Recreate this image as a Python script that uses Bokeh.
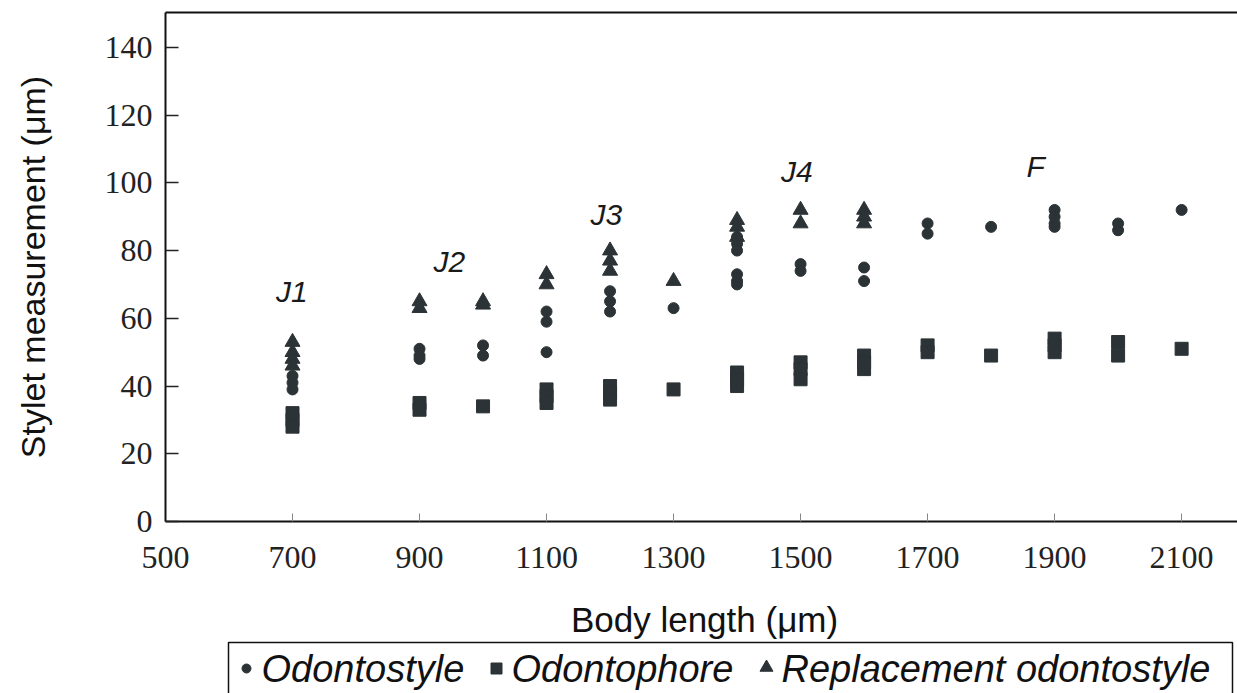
from bokeh.plotting import figure
from bokeh.models import Range1d, LinearAxis, FixedTicker
from bokeh.layouts import column
from bokeh.core.properties import value
from bokeh.embed import file_html
from bokeh.resources import INLINE

# ---- data ----
odontostyle_x = [700, 700, 700, 900, 900, 900, 1000, 1000, 1100, 1100, 1100,
                 1200, 1200, 1200, 1300, 1400, 1400, 1400, 1400, 1400, 1400,
                 1500, 1500, 1600, 1600, 1700, 1700, 1800, 1900, 1900, 1900, 1900,
                 2000, 2000, 2100]
odontostyle_y = [43, 41, 39, 51, 49, 48, 52, 49, 62, 59, 50,
                 68, 65, 62, 63, 84, 82, 80, 73, 71, 70,
                 76, 74, 75, 71, 88, 85, 87, 92, 90, 88, 87,
                 88, 86, 92]

odontophore_x = [700, 700, 700, 900, 900, 1000, 1100, 1100, 1100,
                 1200, 1200, 1200, 1300, 1400, 1400, 1400, 1500, 1500, 1500,
                 1600, 1600, 1600, 1700, 1700, 1800, 1900, 1900, 1900,
                 2000, 2000, 2100]
odontophore_y = [32, 30, 28, 35, 33, 34, 39, 37, 35,
                 40, 38, 36, 39, 44, 42, 40, 47, 45, 42,
                 49, 47, 45, 52, 50, 49, 54, 52, 50,
                 53, 49, 51]

replacement_x = [700, 700, 700, 700, 900, 900, 1000, 1000, 1100, 1100,
                 1200, 1200, 1200, 1300, 1400, 1400, 1400, 1500, 1500,
                 1600, 1600, 1600]
replacement_y = [53, 50, 48, 46, 65, 63, 65, 64, 73, 70,
                 80, 77, 74, 71, 89, 87, 84, 92, 88,
                 92, 90, 88]

stage_labels = ["J1", "J2", "J3", "J4", "F"]
stage_x = [699, 947, 1194, 1494, 1870]
stage_y = [67.8, 76.7, 90.6, 103.3, 104.8]

x_ticks = [500, 700, 900, 1100, 1300, 1500, 1700, 1900, 2100]
y_ticks = [0, 20, 40, 60, 80, 100, 120, 140]

series_labels = ["Odontostyle", "Odontophore", "Replacement odontostyle"]
x_title = "Body length (μm)"
y_title = "Stylet measurement (μm)"

MARK = "#2b3336"
SERIF = "Liberation Serif"
SANS = "Liberation Sans"

# ---------------- main plot ----------------
p = figure(width=1237, height=600, output_backend="svg", toolbar_location=None,
           x_range=Range1d(500, 2188), y_range=Range1d(0, 150.3),
           min_border_left=165, min_border_right=0, min_border_top=12,
           min_border_bottom=79)
p.background_fill_color = "white"
p.border_fill_color = "white"
p.outline_line_color = None
p.xgrid.visible = False
p.ygrid.visible = False

xa = p.xaxis[0]
xa.ticker = FixedTicker(ticks=x_ticks)
xa.axis_line_width = 2
xa.axis_line_color = "#111111"
xa.major_tick_in = 8
xa.major_tick_out = 0
xa.major_tick_line_color = "#888888"
xa.minor_tick_line_color = None
xa.major_label_text_font = SERIF
xa.major_label_text_font_size = "32px"
xa.major_label_text_color = "#222222"
xa.major_label_standoff = 25

ya = p.yaxis[0]
ya.ticker = FixedTicker(ticks=y_ticks)
ya.axis_line_width = 2
ya.axis_line_color = "#111111"
ya.major_tick_in = 13
ya.major_tick_out = 0
ya.major_tick_line_width = 1.5
ya.major_tick_line_color = "#222222"
ya.minor_tick_line_color = None
ya.major_label_text_font = SERIF
ya.major_label_text_font_size = "32px"
ya.major_label_text_color = "#222222"
ya.major_label_standoff = 13
ya.axis_label = y_title
ya.axis_label_text_font = SANS
ya.axis_label_text_font_style = "normal"
ya.axis_label_text_font_size = "34px"
ya.axis_label_text_color = "#111111"
ya.axis_label_standoff = 50

top = LinearAxis(ticker=FixedTicker(ticks=[]), axis_line_width=2,
                 axis_line_color="#111111", major_tick_line_color=None,
                 minor_tick_line_color=None, major_label_text_font_size="0px",
                 major_label_standoff=0)
p.add_layout(top, "above")

p.scatter(odontostyle_x, odontostyle_y, marker="circle", size=11,
          fill_color=MARK, line_color=MARK)
p.scatter(odontophore_x, odontophore_y, marker="square", size=13,
          fill_color=MARK, line_color=MARK)
p.scatter(replacement_x, replacement_y, marker="triangle", size=15,
          fill_color=MARK, line_color=MARK)

p.text(x=stage_x, y=stage_y, text=stage_labels, text_align="center",
       text_baseline="middle", text_font=value(SANS), text_font_style="italic",
       text_font_size="30px", text_color="#1a1a1a")

# ------------- x title + legend strip (page-pixel coordinates) -------------
# the column aligns this strip's frame with the main frame (page x 165..1237)
q = figure(width=1237, height=93, output_backend="svg", toolbar_location=None,
           x_range=Range1d(165, 1237), y_range=Range1d(0, 93),
           x_axis_location=None, y_axis_location=None,
           min_border=0, min_border_left=0, min_border_right=0,
           min_border_top=0, min_border_bottom=0)
q.outline_line_color = None
q.xgrid.visible = False
q.ygrid.visible = False
q.background_fill_color = "white"
q.border_fill_color = "white"

q.text(x=[704], y=[74], text=[x_title], text_align="center",
       text_baseline="middle", text_font=value(SANS), text_font_size="35px",
       text_color="#111111")

# legend box (open at the bottom, as in the reference crop)
q.line(x=[228, 228, 1232, 1232], y=[0, 51, 51, 0], line_color="#111111",
       line_width=1.5)

leg_y = 25
q.scatter([246], [leg_y], marker="circle", size=9, fill_color=MARK, line_color=MARK)
q.scatter([496], [leg_y], marker="square", size=11, fill_color=MARK, line_color=MARK)
q.scatter([766], [leg_y + 1], marker="triangle", size=13, fill_color=MARK, line_color=MARK)
q.text(x=[261, 511, 781], y=[leg_y] * 3, text=series_labels, text_align="left",
       text_baseline="middle", text_font=value(SANS), text_font_style="italic",
       text_font_size="38px", text_color="#111111")

layout = column(p, q, spacing=0)
open("out.html", "w").write(file_html(layout, INLINE))
